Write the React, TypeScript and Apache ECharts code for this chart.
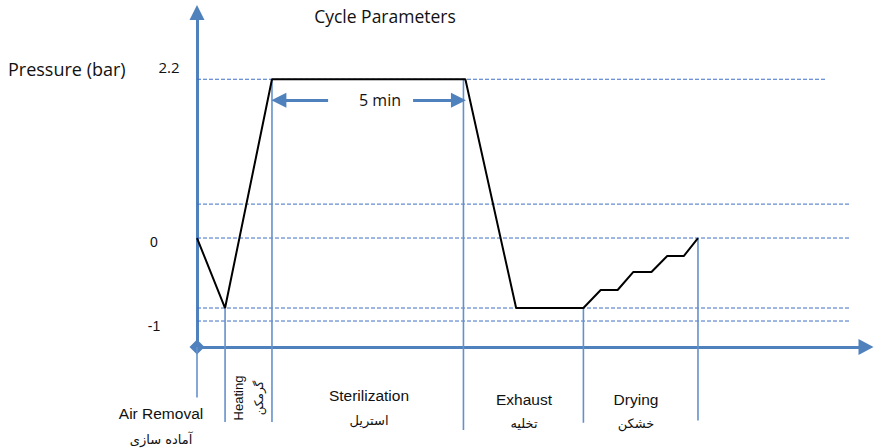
import React, { useEffect, useRef } from "react";
import * as echarts from "echarts";

// Pressure curve (time in minutes, pressure in bar, schematic)
const curveTime = [0, 0.73, 1.95, 6.98, 8.3, 10.05, 10.5, 10.94, 11.35, 11.82, 12.23, 12.66, 13.03];
const curvePressure = [0, -0.97, 2.2, 2.2, -0.97, -0.97, -0.72, -0.72, -0.47, -0.47, -0.25, -0.25, 0];

// Dashed guide levels
const guideLevels = [2.2, 0.47, 0, -0.97, -1.15];
const guideEnds = [16.35, 17.0, 17.0, 17.0, 17.0];

// Phase boundary lines
const phaseTimes = [0, 0.73, 1.95, 6.93, 10.05, 13.03];
const phaseTops = [-1.51, -0.97, 2.2, 2.2, -0.97, 0];
const phaseBottoms = [-2.21, -2.55, -2.55, -2.66, -2.56, -2.53];

// "5 min" arrows: [from, to] in minutes at given level
const arrowLevel = 1.91;
const arrowLeft = [3.41, 2.13];
const arrowRight = [5.62, 6.8];

// Texts
const titleText = "Cycle Parameters";
const yAxisTitle = "Pressure (bar)";
const yTickLabels = ["2.2", "0", "-1"];
const durationLabel = "5 min";
const phaseNames = ["Air Removal", "Heating", "Sterilization", "Exhaust", "Drying"];
const phaseNamesFa = ["آماده سازی", "گرمکن", "استریل", "تخلیه", "خشکن"];

const X_MIN = 0;
const X_MAX = 17.4;
const Y_MIN = -1.51;
const Y_MAX = 3.125;

const AXIS_COLOR = "#4F81BD";
const GUIDE_COLOR = "#3E6FC8";
const PHASE_COLOR = "#6591CB";
const CALIBRI = "'Open Sans', 'Liberation Sans', sans-serif";
const ARIAL = "'Liberation Sans', Arial, sans-serif";
const FA = "'DejaVu Sans', 'Noto Sans', sans-serif";

function txt(text: string, x: number, y: number, font: string, opts: any = {}) {
  return {
    type: "text",
    x,
    y,
    rotation: opts.rotation || 0,
    silent: true,
    style: {
      text,
      font,
      fill: "#111",
      align: opts.align || "center",
      textAlign: opts.align || "center",
      verticalAlign: "middle",
      textVerticalAlign: "middle",
    },
  };
}

export default function App() {
  const ref = useRef<HTMLDivElement>(null);

  useEffect(() => {
    if (!ref.current) return;
    const chart = echarts.init(ref.current, undefined, { renderer: "svg" });

    const series: any[] = [];

    guideLevels.forEach((lv, i) => {
      series.push({
        type: "line",
        data: [
          [X_MIN, lv],
          [guideEnds[i], lv],
        ],
        symbol: "none",
        silent: true,
        z: 1,
        lineStyle: { color: GUIDE_COLOR, width: 1, type: [4, 2] },
      });
    });

    phaseTimes.forEach((t, i) => {
      series.push({
        type: "line",
        data: [
          [t, phaseTops[i]],
          [t, phaseBottoms[i]],
        ],
        symbol: "none",
        silent: true,
        clip: false,
        z: 2,
        lineStyle: { color: PHASE_COLOR, width: 1.6 },
      });
    });

    series.push({
      type: "line",
      data: curveTime.map((t, i) => [t, curvePressure[i]]),
      symbol: "none",
      silent: true,
      z: 5,
      lineStyle: { color: "#000", width: 2 },
      markLine: {
        silent: true,
        symbol: ["none", "triangle"],
        symbolSize: [15, 15],
        label: { show: false },
        lineStyle: { color: AXIS_COLOR, width: 3, type: "solid" },
        emphasis: { disabled: true },
        data: [
          [{ coord: [arrowLeft[0], arrowLevel] }, { coord: [arrowLeft[1], arrowLevel] }],
          [{ coord: [arrowRight[0], arrowLevel] }, { coord: [arrowRight[1], arrowLevel] }],
        ],
      },
    });

    const graphic: any[] = [
      txt(titleText, 385, 16, `17.5px ${CALIBRI}`),
      txt(yAxisTitle, 8, 69, `18px ${CALIBRI}`, { align: "left" }),
      txt(yTickLabels[0], 169, 67, `15px ${CALIBRI}`),
      txt(yTickLabels[1], 154, 242, `14px ${ARIAL}`),
      txt(yTickLabels[2], 154, 326, `14px ${ARIAL}`),
      txt(durationLabel, 380, 100, `16px ${CALIBRI}`),
      txt(phaseNames[0], 161, 413, `15.5px ${ARIAL}`),
      txt(phaseNamesFa[0], 161, 439, `13px ${FA}`),
      txt(phaseNames[1], 238, 398, `13px ${ARIAL}`, { rotation: Math.PI / 2 }),
      txt(phaseNamesFa[1], 259, 398, `12px ${FA}`, { rotation: Math.PI / 2 }),
      txt(phaseNames[2], 369, 395, `15.5px ${ARIAL}`),
      txt(phaseNamesFa[2], 369, 420, `13px ${FA}`),
      txt(phaseNames[3], 524, 399, `15.5px ${ARIAL}`),
      txt(phaseNamesFa[3], 524, 423, `13px ${FA}`),
      txt(phaseNames[4], 636, 399, `15.5px ${ARIAL}`),
      txt(phaseNamesFa[4], 636, 423, `13px ${FA}`),
    ];

    chart.setOption({
      animation: false,
      backgroundColor: "#fff",
      grid: { left: 197, right: 10, top: 12.5, bottom: 101, containLabel: false },
      xAxis: {
        type: "value",
        min: X_MIN,
        max: X_MAX,
        axisLine: {
          show: true,
          onZero: false,
          symbol: ["none", "triangle"],
          symbolSize: [16, 15],
          lineStyle: { color: AXIS_COLOR, width: 3 },
        },
        axisTick: { show: false },
        axisLabel: { show: false },
        splitLine: { show: false },
      },
      yAxis: {
        type: "value",
        min: Y_MIN,
        max: Y_MAX,
        axisLine: {
          show: true,
          onZero: false,
          symbol: ["diamond", "triangle"],
          symbolSize: [15, 15],
          lineStyle: { color: AXIS_COLOR, width: 3 },
        },
        axisTick: { show: false },
        axisLabel: { show: false },
        splitLine: { show: false },
      },
      series,
      graphic,
    });

    return () => chart.dispose();
  }, []);

  return <div ref={ref} style={{ width: 876, height: 448, position: "absolute", left: 0, top: 0 }} />;
}
